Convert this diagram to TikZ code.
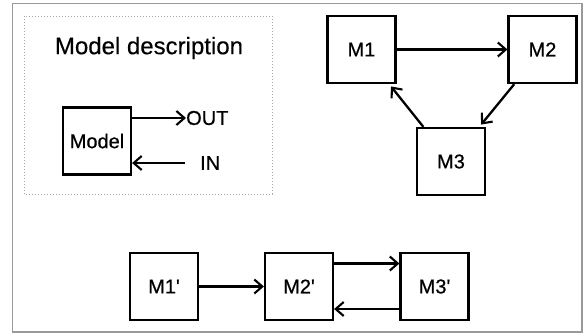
\documentclass[tikz,border=0pt]{standalone}
\usepackage{fontspec}
\setmainfont{Liberation Sans}
\newfontfamily\heavyfont[FakeBold=0.6]{Liberation Sans}
\newfontfamily\midfont[FakeBold=0.3]{Liberation Sans}
\usetikzlibrary{arrows.meta}
\begin{document}
\begin{tikzpicture}[x=1pt,y=-1pt,
  mbox/.style={draw=black,line width=2.2pt,minimum width=68pt,minimum height=67pt,inner sep=0pt,font=\heavyfont\fontsize{20}{24}\selectfont},
  lbl/.style={inner sep=0pt,font=\heavyfont\fontsize{20}{24}\selectfont},
  arr/.style={line width=2.3pt,-{Straight Barb[length=8pt,width=14pt,line width=2.1pt]}}]
\useasboundingbox (0,0) rectangle (588,335);
\draw[gray!80,line width=1.3pt] (12.5,3.5) rectangle (582,332);
\draw[gray!70,line width=1pt,dotted] (24,16) rectangle (272,194);
\node[inner sep=0pt,font=\midfont\fontsize{24}{28}\selectfont] (title) at (149,48) {Model description};
\node[mbox] (model) at (97,141) {Model};
\node[lbl,anchor=west] (outlbl) at (186,118) {OUT};
\node[lbl,anchor=west] (inlbl) at (200,163) {IN};
\coordinate (inStart) at (185,163);
\draw[arr] (model.east |- outlbl.west) -- (outlbl.west);
\draw[arr] (inStart) -- (model.east |- inStart);
\node[mbox] (m1) at (361.5,49.5) {M1};
\node[mbox] (m2) at (542.5,49.5) {M2};
\node[mbox] (m3) at (451,161.5) {M3};
\draw[arr] (m1) -- (m2);
\draw[arr,shorten >=3pt] (m2) -- (m3);
\draw[arr,shorten >=3pt] (m3) -- (m1);
\node[mbox] (m1p) at (164,286.5) {M1\textquotesingle};
\node[mbox] (m2p) at (299,286.5) {M2\textquotesingle};
\node[mbox] (m3p) at (434.5,286.5) {M3\textquotesingle};
\draw[arr] (m1p) -- (m2p);
\draw[arr] ([yshift=23pt]m2p.east) -- ([yshift=23pt]m3p.west);
\draw[arr] ([yshift=-22.5pt]m3p.west) -- ([yshift=-22.5pt]m2p.east);
\end{tikzpicture}
\end{document}
